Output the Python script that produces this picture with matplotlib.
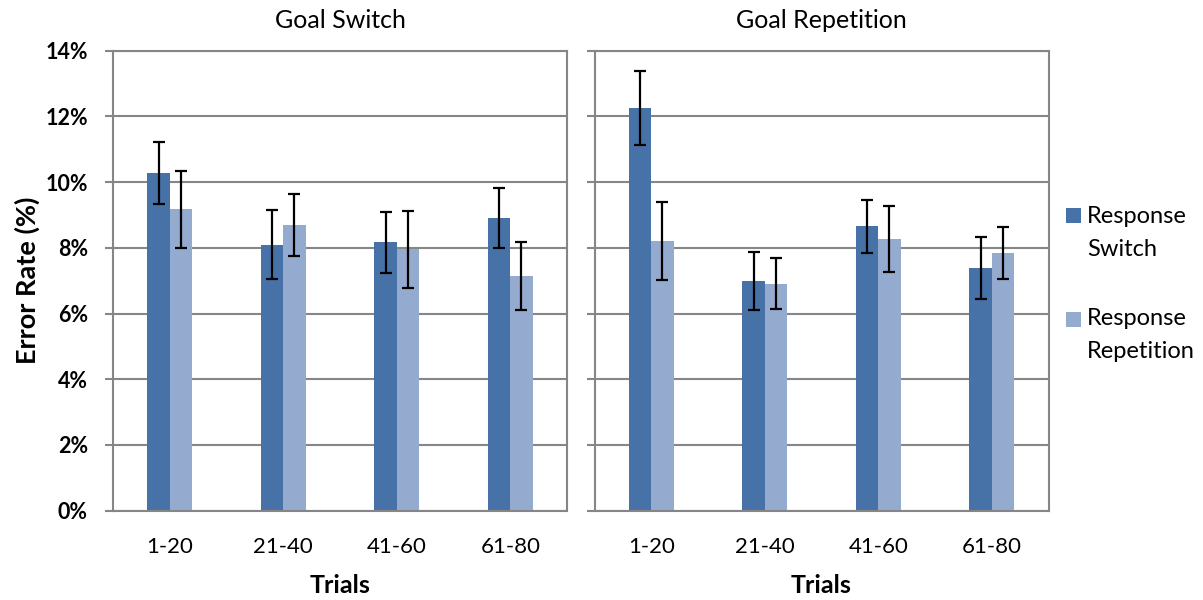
import matplotlib
matplotlib.use("Agg")
import matplotlib.pyplot as plt
import numpy as np
from matplotlib.patches import Rectangle
from matplotlib.ticker import FuncFormatter

plt.rcParams['font.family'] = ['Lato', 'DejaVu Sans']

categories = ["1-20", "21-40", "41-60", "61-80"]
panels = ["Goal Switch", "Goal Repetition"]
series_names = [["Response", "Switch"], ["Response", "Repetition"]]

# values in %
gs_resp_switch = [10.27, 8.09, 8.17, 8.91]
gs_resp_switch_err = [0.95, 1.05, 0.93, 0.91]
gs_resp_rep = [9.17, 8.70, 7.95, 7.14]
gs_resp_rep_err = [1.16, 0.94, 1.18, 1.03]

gr_resp_switch = [12.25, 6.98, 8.66, 7.38]
gr_resp_switch_err = [1.13, 0.88, 0.81, 0.95]
gr_resp_rep = [8.20, 6.91, 8.26, 7.85]
gr_resp_rep_err = [1.19, 0.77, 1.01, 0.79]

dark = "#4672A8"
light = "#95AACF"
grid_c = "#868686"

W, H = 1203, 600
fig = plt.figure(figsize=(W/100, H/100), dpi=100)
ax1 = fig.add_axes([113/W, 89.3/H, 454/W, 460/H])
ax2 = fig.add_axes([594.5/W, 89.3/H, 454/W, 460/H])

data = [
    (gs_resp_switch, gs_resp_switch_err, gs_resp_rep, gs_resp_rep_err),
    (gr_resp_switch, gr_resp_switch_err, gr_resp_rep, gr_resp_rep_err),
]

x = np.arange(len(categories))
w = 0.197
for i, (ax, title, d) in enumerate(zip([ax1, ax2], panels, data)):
    s, se, r, re = d
    ax.set_axisbelow(True)
    ax.bar(x - w/2, s, w, color=dark, zorder=2)
    ax.bar(x + w/2, r, w, color=light, zorder=2)
    ax.errorbar(x - w/2, s, yerr=se, fmt='none', ecolor='black', elinewidth=1.6,
                capsize=4, capthick=1.6, zorder=3)
    ax.errorbar(x + w/2, r, yerr=re, fmt='none', ecolor='black', elinewidth=1.6,
                capsize=4, capthick=1.6, zorder=3)
    ax.set_xlim(-0.5, len(categories) - 0.5)
    ax.set_ylim(0, 14)
    ax.set_yticks(np.arange(0, 15, 2))
    ax.yaxis.grid(True, color=grid_c, linewidth=1.5)
    for sp in ax.spines.values():
        sp.set_color(grid_c)
        sp.set_linewidth(1.5)
    ax.tick_params(axis='y', length=6, width=1.5, color=grid_c, direction='out')
    ax.tick_params(axis='x', length=0, pad=19, labelsize=16)
    ax.set_xticks(x)
    ax.set_xticklabels(categories)
    ax.set_title(title, fontsize=18, pad=16)
    ax.set_xlabel("Trials", fontsize=18, fontweight='bold', labelpad=12)
    if i == 0:
        ax.yaxis.set_major_formatter(FuncFormatter(lambda v, p: f"{v:.0f}%"))
        for lab in ax.get_yticklabels():
            lab.set_fontweight('bold')
        ax.tick_params(axis='y', labelsize=15.5, pad=12)
        ax.set_ylabel("Error Rate (%)", fontsize=19.5, fontweight='bold', labelpad=4)
    else:
        ax.set_yticklabels([])

# legend (drawn manually: square aligned with first line of a two-line label)
colors = [dark, light]
sq_tops = [208, 312]
baselines = [(223, 255.5), (325, 357.5)]
for c, top, (b1, b2), lines in zip(colors, sq_tops, baselines, series_names):
    fig.patches.append(Rectangle((1066/W, 1 - (top + 14.5)/H), 14.5/W, 14.5/H,
                                 transform=fig.transFigure, facecolor=c, edgecolor='none'))
    fig.text(1087/W, 1 - b1/H, lines[0], fontsize=17, va='baseline', ha='left')
    fig.text(1087/W, 1 - b2/H, lines[1], fontsize=17, va='baseline', ha='left')

fig.savefig("out.png", dpi=100)
